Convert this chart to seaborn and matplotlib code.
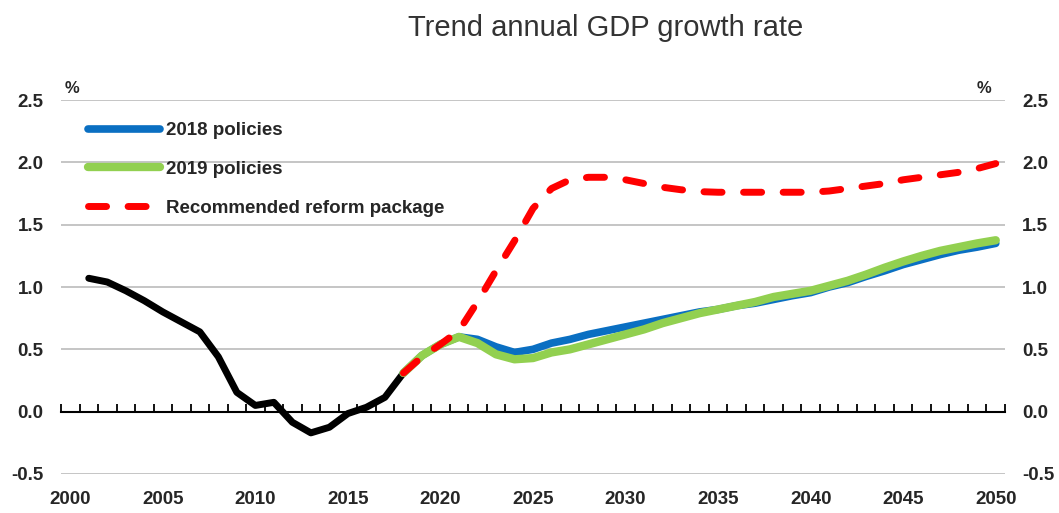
import matplotlib
matplotlib.use('Agg')
from matplotlib import pyplot as plt
import matplotlib.ticker as ticker
import seaborn as sns
import pandas as pd

hist_years = list(range(2001, 2019))
hist_values = [1.07, 1.04, 0.97, 0.89, 0.80, 0.72, 0.64, 0.44, 0.155, 0.05, 0.075,
               -0.085, -0.17, -0.125, -0.015, 0.035, 0.115, 0.31]

proj_years = list(range(2018, 2051))
policies_2018 = [0.31, 0.45, 0.54, 0.60, 0.58, 0.52, 0.475, 0.50, 0.55, 0.58, 0.62,
                 0.65, 0.68, 0.71, 0.74, 0.77, 0.80, 0.82, 0.85, 0.87, 0.90, 0.93,
                 0.955, 1.0, 1.035, 1.085, 1.13, 1.18, 1.22, 1.26, 1.295, 1.32, 1.35]
policies_2019 = [0.31, 0.45, 0.54, 0.60, 0.55, 0.46, 0.42, 0.43, 0.475, 0.50, 0.54,
                 0.58, 0.62, 0.66, 0.71, 0.75, 0.79, 0.82, 0.85, 0.88, 0.92, 0.945,
                 0.97, 1.01, 1.05, 1.10, 1.155, 1.205, 1.25, 1.29, 1.32, 1.35, 1.375]
reform = [0.31, 0.44, 0.54, 0.65, 0.88, 1.13, 1.37, 1.63, 1.79, 1.86, 1.88, 1.88,
          1.86, 1.83, 1.80, 1.78, 1.765, 1.76, 1.76, 1.76, 1.76, 1.76, 1.76, 1.77,
          1.79, 1.81, 1.83, 1.86, 1.88, 1.90, 1.92, 1.95, 1.99]

yticks = [-0.5, 0.0, 0.5, 1.0, 1.5, 2.0, 2.5]
xtick_years = list(range(2000, 2051, 5))

sns.set_style('white')
plt.rcParams['font.family'] = ['Liberation Sans', 'DejaVu Sans']

hist = pd.DataFrame({'year': hist_years, 'value': hist_values})
proj = pd.DataFrame({'year': proj_years, '2018 policies': policies_2018,
                     '2019 policies': policies_2019,
                     'Recommended reform package': reform})

fig = plt.figure(figsize=(10.59, 5.13), dpi=100)
ax = fig.add_axes([61 / 1059, 39 / 513, 944 / 1059, 374 / 513])

for y in yticks:
    if y != 0:
        ax.axhline(y, color='#c0c0c0', lw=1.3, zorder=0)

sns.lineplot(data=hist, x='year', y='value', ax=ax, color='black', lw=5,
             solid_capstyle='round', legend=False)
sns.lineplot(data=proj, x='year', y='2018 policies', ax=ax, color='#0a6fc2', lw=5.5,
             solid_capstyle='round', label='2018 policies')
sns.lineplot(data=proj, x='year', y='2019 policies', ax=ax, color='#92d050', lw=6,
             solid_capstyle='round', label='2019 policies')
sns.lineplot(data=proj, x='year', y='Recommended reform package', ax=ax, color='#ff0000',
             lw=5, linestyle=(0, (2.6, 3.1)), dash_capstyle='round',
             label='Recommended reform package')

ax.set_xlim(1999.5, 2050.5)
ax.set_ylim(-0.5, 2.5)
ax.set_xlabel('')
ax.set_ylabel('')
for s in ax.spines.values():
    s.set_visible(False)

ax.set_xticks(xtick_years)
ax.set_yticks(yticks)
ax.yaxis.set_major_formatter(ticker.FormatStrFormatter('%.1f'))
ax.tick_params(axis='x', length=0, pad=12, labelsize=13.5, labelcolor='#262626')
ax.tick_params(axis='y', length=0, pad=12.5, labelsize=13.5, labelcolor='#262626',
               labelleft=True, labelright=True)
for lab in ax.get_xticklabels() + ax.get_yticklabels():
    lab.set_fontweight('bold')

# zero line with year boundary ticks
zero = ax.secondary_xaxis(0.5 / 3)
zero.spines['bottom'].set_color('black')
zero.spines['bottom'].set_linewidth(1.5)
zero.set_xticks([y - 0.5 for y in range(2000, 2052)])
zero.tick_params(direction='in', length=6, width=1.3, color='black', labelbottom=False)

ax.text(4 / 944, 1.032, '%', transform=ax.transAxes, fontsize=12, fontweight='bold',
        color='#262626', va='center', ha='left')
ax.text(916 / 944, 1.032, '%', transform=ax.transAxes, fontsize=12, fontweight='bold',
        color='#262626', va='center', ha='left')

leg = ax.legend(loc='upper left', bbox_to_anchor=(0.011, 0.986), frameon=False,
                handlelength=3.85, handletextpad=0.3, labelspacing=1.15,
                prop={'size': 13.5, 'weight': 'bold'})
for t in leg.get_texts():
    t.set_color('#262626')

fig.text(606 / 1059, 1 - 28 / 513, 'Trend annual GDP growth rate', ha='center', va='center',
         fontsize=21, color='#333333')

fig.savefig('out.png', dpi=100, facecolor='white')
